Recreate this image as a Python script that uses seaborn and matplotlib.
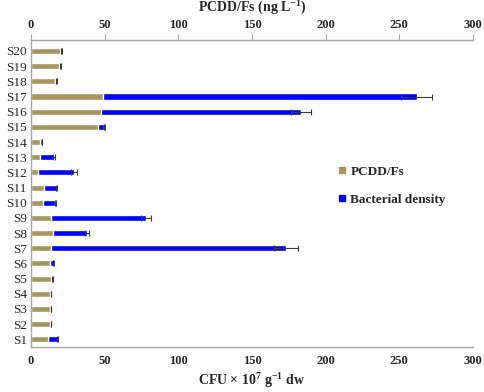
import pandas as pd
import matplotlib.pyplot as plt
import seaborn as sns
from matplotlib.lines import Line2D

# values (S1 .. S20)
sites = ['S%d' % i for i in range(1, 21)]
pcdd = [11.8, 12.9, 12.9, 12.9, 13.6, 12.9, 13.6, 14.7, 13.6, 7.9,
        9.0, 4.5, 5.9, 5.9, 45.7, 47.5, 48.6, 16.3, 18.8, 19.7]
bacteria = [6.5, 0.8, 0.8, 0.8, 1.1, 2.5, 159.5, 23.1, 64.5, 8.6,
            8.4, 24.7, 9.7, 1.6, 4.1, 135.8, 213.2, 1.1, 1.1, 0.9]
bacteria_err = [0.3, 0.2, 0.2, 0.2, 0.2, 0.3, 8.0, 1.4, 3.3, 0.4,
                0.4, 1.8, 0.8, 0.2, 0.3, 7.0, 10.5, 0.2, 0.2, 0.2]

df = pd.DataFrame({'site': sites, 'pcdd': pcdd, 'bacteria': bacteria, 'err': bacteria_err})
df['total'] = df['pcdd'] + df['bacteria']

tan = '#A8955F'
blue = '#0000FF'
grey = '#A6A6A6'

sns.set_style('white')
plt.rcParams['font.family'] = ['Liberation Serif', 'DejaVu Serif']
plt.rcParams['mathtext.fontset'] = 'custom'
plt.rcParams['mathtext.rm'] = 'Liberation Serif'
plt.rcParams['mathtext.bf'] = 'Liberation Serif:bold'
plt.rcParams['mathtext.default'] = 'bf'

fig, ax = plt.subplots(figsize=(4.84, 3.92), dpi=100)
fig.subplots_adjust(left=0.064, right=0.977, top=0.897, bottom=0.115)

order = sites[::-1]  # S20 at top
sns.barplot(data=df, x='total', y='site', order=order, color=blue, width=0.4,
            saturation=1, ax=ax, orient='h')
sns.barplot(data=df, x='pcdd', y='site', order=order, color=tan, width=0.4,
            saturation=1, ax=ax, orient='h')

pos = {s: i for i, s in enumerate(order)}
ypos = [pos[s] for s in df['site']]
ax.errorbar(df['total'], ypos, xerr=df['err'], fmt='none', ecolor='#3a3a3a',
            elinewidth=0.8, capsize=2.5, capthick=0.8)

ax.set_xlim(0, 300)
ax.set_ylim(19.45, -0.7)
ax.set_xticks(range(0, 301, 50))
ax.set_xticklabels([str(v) for v in range(0, 301, 50)], fontweight='bold', fontsize=9)
ax.set_yticks(range(20))
ax.set_yticklabels(order, fontsize=9.5)
ax.set_yticks([i + 0.5 for i in range(-1, 20)], minor=True)
ax.tick_params(axis='y', which='major', length=0, pad=3)
ax.tick_params(axis='y', which='minor', length=4, color=grey, direction='out')
ax.tick_params(axis='x', length=4, color=grey, direction='out', pad=2)
ax.set_xlabel('CFU × 10$^{7}$ g$^{-1}$ dw', fontweight='bold', fontsize=10, labelpad=3)
ax.set_ylabel('')

for side in ['left', 'bottom', 'top']:
    ax.spines[side].set_color(grey)
    ax.spines[side].set_linewidth(1)
ax.spines['right'].set_visible(False)

top = ax.secondary_xaxis('top')
top.set_xticks(range(0, 301, 50))
top.set_xticklabels([str(v) for v in range(0, 301, 50)], fontweight='bold', fontsize=9)
top.tick_params(axis='x', length=4, color=grey, direction='out', pad=3)
top.spines['top'].set_color(grey)
top.set_xlabel('PCDD/Fs (ng L$^{-1}$)', fontweight='bold', fontsize=10, labelpad=5)

handles = [Line2D([], [], marker='s', linestyle='', color=tan, markersize=5),
           Line2D([], [], marker='s', linestyle='', color=blue, markersize=5)]
ax.legend(handles, ['PCDD/Fs', 'Bacterial density'], loc='upper left',
          bbox_to_anchor=(0.66, 0.63), frameon=False, handletextpad=0.0,
          handlelength=1.2, labelspacing=1.2, prop={'weight': 'bold', 'size': 9.5})

plt.savefig('out.png', dpi=100)
